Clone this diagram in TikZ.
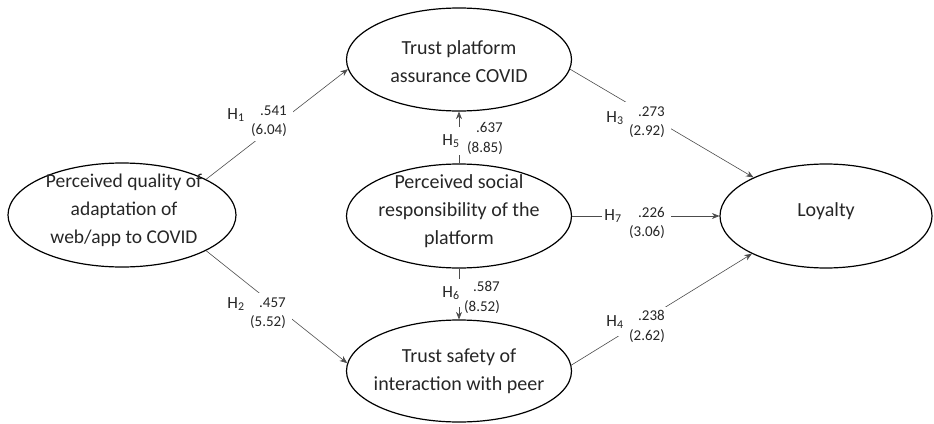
\documentclass[tikz,border=0pt]{standalone}
\usepackage{fontspec}
\setmainfont{Carlito}
\usetikzlibrary{shapes.geometric,arrows.meta}
% #1 vertical shift, #2 horizontal shift (twice), #3 lines
\newcommand\etext[3]{\smash{\raisebox{#1}{\makebox[0pt]{\hspace*{#2}\begin{tabular}{@{}c@{}}#3\end{tabular}}}}}
\tikzset{
  construct/.style={ellipse, draw=black, line width=1.2pt, inner sep=0pt,
    minimum width=225pt, minimum height=104pt, text=black!85,
    font=\fontsize{20}{28}\selectfont},
  conn/.style={draw=black!70, line width=0.6pt, -{Stealth[length=7.5pt,width=6pt]}},
  hname/.style={fill=white, inner xsep=2pt, inner ysep=0pt, minimum height=28pt,
    text=black!85, font=\fontsize{17}{20}\selectfont},
  hnum/.style={fill=white, align=right, inner xsep=6pt, inner ysep=4pt, anchor=east,
    text=black!85, font=\fontsize{15}{19.5}\selectfont},
}
\begin{document}
\begin{tikzpicture}[x=1pt,y=-1pt]
\useasboundingbox (0,0) rectangle (934,423);
\node[construct, minimum width=228pt, font=\fontsize{19.5}{28}\selectfont] (L) at (122,215) {\etext{0pt}{4pt}{Perceived quality of\\adaptation of\\web/app to COVID}};
\node[construct, minimum height=103pt] (T) at (459,59.5) {\etext{-8.5pt}{0pt}{Trust platform\\assurance COVID}};
\node[construct] (M) at (459,216) {\etext{0pt}{0pt}{Perceived social\\responsibility of the\\platform}};
\node[construct, minimum height=102pt] (B) at (459,371) {\etext{-5pt}{0pt}{Trust safety of\\interaction with peer}};
\node[construct, minimum width=212pt] (Y) at (826,216) {\etext{0pt}{0pt}{Loyalty}};

\draw[conn] (L.23) -- (T.185);
\draw[conn] (L.-23) -- (B.176);
\draw[conn] (T.-5) -- (Y.152);
\draw[conn] (B.3) -- (Y.207);
\draw[conn] (M.north) -- (T.south);
\draw[conn] (M.south) -- (B.north);
\draw[conn] (M.east) -- (Y.west);

\node[hname] (h1) at (236,115) {H\textsubscript{1}};
\node[hnum] (n1) at (293,121) {.541\\(6.04)};
\node[hname] (h2) at (236,304) {H\textsubscript{2}};
\node[hnum] (n2) at (292,313) {.457\\(5.52)};
\node[hname] (h3) at (615,118) {H\textsubscript{3}};
\node[hnum] (n3) at (671,122) {.273\\(2.92)};
\node[hname] (h4) at (615,322) {H\textsubscript{4}};
\node[hnum] (n4) at (671,326.5) {.238\\(2.62)};
\node[hname] (h5) at (451,141) {H\textsubscript{5}};
\node[hnum, inner xsep=2pt] (n5) at (505,138.5) {.637\\(8.85)};
\node[hname] (h6) at (451,293) {H\textsubscript{6}};
\node[hnum, inner xsep=2pt] (n6) at (502,297.5) {.587\\(8.52)};
\node[hname] (h7) at (613,216) {H\textsubscript{7}};
\node[hnum] (n7) at (671,223) {.226\\(3.06)};
\end{tikzpicture}
\end{document}
